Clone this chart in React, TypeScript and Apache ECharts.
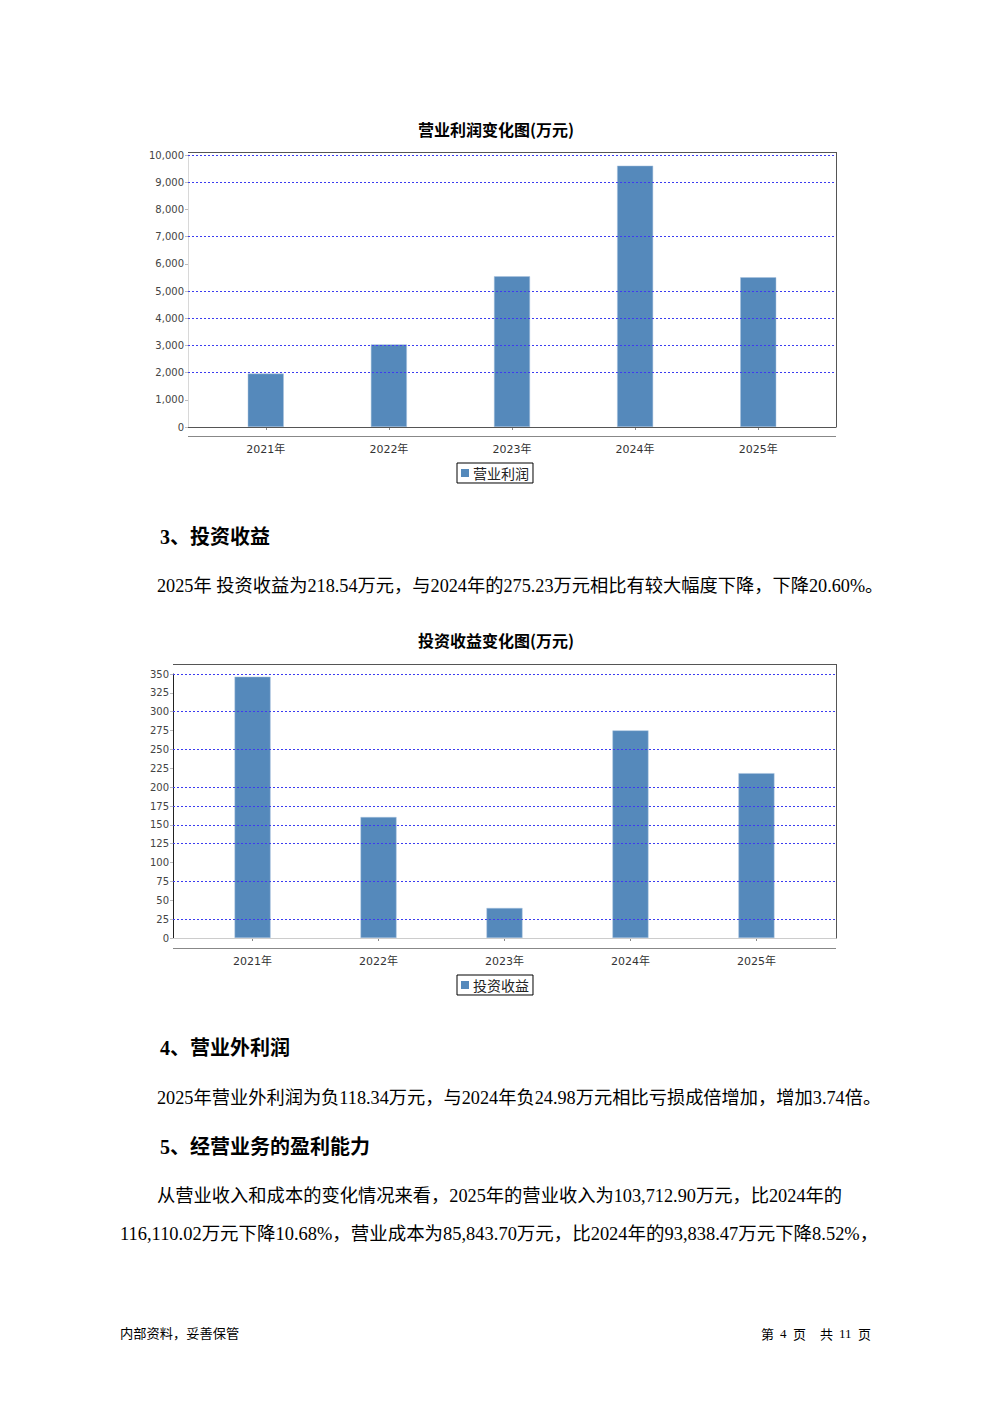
import React, { useEffect, useRef } from "react";
import * as echarts from "echarts";

// ---- data ----
const years = ["2021年", "2022年", "2023年", "2024年", "2025年"];
const profitName = "营业利润";
const profitValues = [1963, 3037, 5540, 9607, 5504];
const profitGridLines = [10000, 9000, 7000, 5000, 4000, 3000, 2000];
const investName = "投资收益";
const investValues = [346.4, 160.4, 39.8, 275.23, 218.54];
const investGridLines = [350, 300, 250, 200, 175, 150, 125, 75, 25];

const title1 = "营业利润变化图(万元)";
const title2 = "投资收益变化图(万元)";
const heading3 = "3、投资收益";
const para3 = "2025年 投资收益为218.54万元，与2024年的275.23万元相比有较大幅度下降，下降20.60%。";
const heading4 = "4、营业外利润";
const para4 = "2025年营业外利润为负118.34万元，与2024年负24.98万元相比亏损成倍增加，增加3.74倍。";
const heading5 = "5、经营业务的盈利能力";
const para5a = "从营业收入和成本的变化情况来看，2025年的营业收入为103,712.90万元，比2024年的";
const para5b = "116,110.02万元下降10.68%，营业成本为85,843.70万元，比2024年的93,838.47万元下降8.52%，";
const footerLeft = "内部资料，妥善保管";

const BAR = "#5589bb";
const GRIDC = "#3c3cf0";
const AXF = "'DejaVu Sans', 'Noto Sans CJK SC', sans-serif";
const BODYF = "'Liberation Serif', 'Noto Sans CJK SC', serif";
const CJKF = "'Noto Sans CJK SC', sans-serif";

function chartParts(
  idx: number,
  name: string,
  values: number[],
  gridLines: number[],
  max: number,
  interval: number,
  left: number,
  top: number,
  width: number,
  height: number,
  yLineColor: string,
  xOffset: number
) {
  const g0 = idx * 2;
  const g1 = idx * 2 + 1;
  const inner = width * 0.025;
  const grids = [
    { left, top, width, height },
    { left: left + inner, top, width: width - 2 * inner, height },
  ];
  const xAxes = [
    { gridIndex: g0, type: "value", min: 0, max: 1, show: false },
    {
      gridIndex: g1,
      type: "category",
      data: years,
      offset: xOffset,
      axisLine: { show: false },
      axisTick: { show: true, alignWithLabel: true, length: 3, lineStyle: { color: "#888" } },
      axisLabel: { fontSize: 11, color: "#333", margin: 8, fontFamily: AXF },
      splitLine: { show: false },
    },
  ];
  const yAxes = [
    {
      gridIndex: g0,
      type: "value",
      min: 0,
      max,
      interval,
      axisLine: { show: true, lineStyle: { color: yLineColor, width: 1 } },
      axisTick: { show: true, length: 3, lineStyle: { color: "#bbb" } },
      axisLabel: {
        fontSize: 10,
        color: "#444",
        margin: 4,
        fontFamily: AXF,
        formatter: (v: number) => v.toLocaleString("en-US"),
      },
      splitLine: { show: false },
    },
    { gridIndex: g1, type: "value", min: 0, max, show: false },
  ];
  const series = [
    {
      type: "line",
      xAxisIndex: g0,
      yAxisIndex: g0,
      data: [],
      z: 1,
      markLine: {
        silent: true,
        symbol: "none",
        label: { show: false },
        lineStyle: { color: GRIDC, type: [2, 2], width: 1 },
        data: gridLines.map((v) => ({ yAxis: v })),
      },
    },
    {
      type: "bar",
      name,
      xAxisIndex: g1,
      yAxisIndex: g1,
      data: values,
      barWidth: 36,
      z: 3,
      itemStyle: { color: BAR, borderColor: "#a9c3de", borderWidth: 0.5 },
    },
  ];
  return { grids, xAxes, yAxes, series };
}

export default function App() {
  const ref = useRef<HTMLDivElement>(null);
  useEffect(() => {
    if (!ref.current) return;
    const chart = echarts.init(ref.current, undefined, { renderer: "svg" });
    const c1 = chartParts(0, profitName, profitValues, profitGridLines, 10000, 1000, 188, 155, 648, 272, "#d8d8d8", 9);
    const c2 = chartParts(1, investName, investValues, investGridLines, 350, 25, 173, 674, 663, 264, "#222", 10);

    const txt = (text: string, x: number, y: number, font: string, sx = 1) => ({
      type: "text",
      x,
      y,
      scaleX: sx,
      silent: true,
      style: { text, font, fill: "#000", textAlign: "left", textVerticalAlign: "middle" },
    });
    const ln = (x1: number, y1: number, x2: number, y2: number, color: string) => ({
      type: "line",
      silent: true,
      z: 5,
      shape: { x1, y1, x2, y2 },
      style: { stroke: color, lineWidth: 1 },
    });

    const legendBase = {
      orient: "horizontal",
      borderColor: "#000",
      borderWidth: 1,
      padding: [3, 4, 3, 4],
      itemWidth: 8,
      itemHeight: 8,
      icon: "rect",
      itemStyle: { borderWidth: 0, color: BAR },
      textStyle: { fontSize: 14, color: "#222", fontFamily: CJKF, padding: [0, 0, 0, -1] },
    };

    chart.setOption({
      animation: false,
      backgroundColor: "#fff",
      title: [
        { text: title1, left: "center", top: 116, textStyle: { fontSize: 16, fontWeight: "bold", color: "#000", fontFamily: CJKF } },
        { text: title2, left: "center", top: 627, textStyle: { fontSize: 16, fontWeight: "bold", color: "#000", fontFamily: CJKF } },
      ],
      legend: [
        { ...legendBase, data: [profitName], left: 457, top: 463 },
        { ...legendBase, data: [investName], left: 457, top: 975 },
      ],
      grid: [...c1.grids, ...c2.grids],
      xAxis: [...c1.xAxes, ...c2.xAxes],
      yAxis: [...c1.yAxes, ...c2.yAxes],
      series: [...c1.series, ...c2.series],
      graphic: [
        // chart 1 frame + x axis line
        ln(188, 152.5, 836, 152.5, "#555"),
        ln(836.5, 152, 836.5, 427.5, "#555"),
        ln(188, 427.5, 836, 427.5, "#555"),
        ln(188, 436.5, 836, 436.5, "#888"),
        // chart 2 frame + x axis line
        ln(173, 664.5, 836, 664.5, "#555"),
        ln(836.5, 664, 836.5, 938.5, "#555"),
        ln(173, 938.5, 836, 938.5, "#ccc"),
        ln(173, 948.5, 836, 948.5, "#888"),
        // text
        txt(heading3, 160, 537, "bold 20px " + BODYF),
        txt(para3, 157, 586, "18px " + BODYF, 1.014),
        txt(heading4, 160, 1048, "bold 20px " + BODYF),
        txt(para4, 157, 1098, "18px " + BODYF, 1.014),
        txt(heading5, 160, 1147, "bold 20px " + BODYF),
        txt(para5a, 157, 1196, "18px " + BODYF, 1.016),
        txt(para5b, 120, 1234, "18px " + BODYF, 1.026),
        txt(footerLeft, 120, 1333, "13px " + CJKF, 1.02),
        txt("第", 761, 1333, "13px " + CJKF),
        txt("4", 780, 1333, "13px " + BODYF),
        txt("页", 793, 1333, "13px " + CJKF),
        txt("共", 820, 1333, "13px " + CJKF),
        txt("11", 839, 1333, "13px " + BODYF),
        txt("页", 858, 1333, "13px " + CJKF),
      ],
    });
    return () => chart.dispose();
  }, []);
  return (
    <div
      ref={ref}
      style={{ position: "absolute", left: 0, top: 0, width: 992, height: 1403, background: "#fff" }}
    />
  );
}
